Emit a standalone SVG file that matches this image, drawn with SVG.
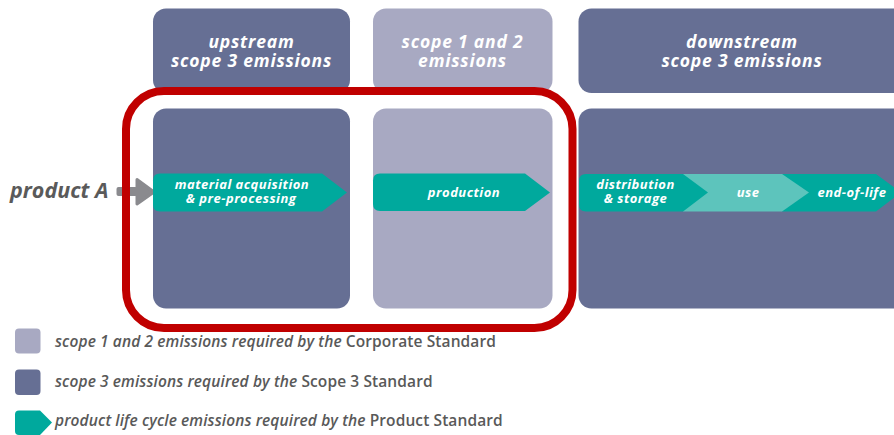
<svg xmlns="http://www.w3.org/2000/svg" width="894" height="435" viewBox="0 0 894 435">
<style>
.dark{fill:#666f94}
.light{fill:#a8a9c2}
.teal{fill:#00a99d}
.teal2{fill:#5dc4bc}
.hd{font-family:"Open Sans","Liberation Sans",sans-serif;font-style:italic;font-weight:700;font-size:17.5px;letter-spacing:0.8px;fill:#ffffff;text-anchor:middle}
.lb{font-family:"Open Sans","Liberation Sans",sans-serif;font-style:italic;font-weight:700;font-size:13px;letter-spacing:0.5px;fill:#ffffff;text-anchor:middle}
.lg{font-family:"Open Sans","Liberation Sans",sans-serif;font-size:15.5px;font-weight:600;letter-spacing:0.1px;fill:#595959}
.it{font-style:italic}
</style>
<g id="top-upstream"><rect class="dark" x="153" y="8.5" width="197" height="84.5" rx="13"/><text class="hd" x="251.5" y="48">upstream</text><text class="hd" x="251.5" y="67">scope 3 emissions</text></g>
<g id="top-scope12"><rect class="light" x="373" y="8.5" width="179.5" height="84.5" rx="13"/><text class="hd" x="462.5" y="48">scope 1 and 2</text><text class="hd" x="462.5" y="67">emissions</text></g>
<g id="top-downstream"><rect class="dark" x="578.5" y="8.5" width="330" height="84.5" rx="13"/><text class="hd" x="742" y="48">downstream</text><text class="hd" x="742" y="67">scope 3 emissions</text></g>
<g id="box-upstream"><rect class="dark" x="153" y="108.5" width="197" height="200" rx="13"/></g>
<g id="box-scope12"><rect class="light" x="373" y="108.5" width="179.5" height="200" rx="13"/></g>
<g id="box-downstream"><rect class="dark" x="578.5" y="108.5" width="330" height="200" rx="13"/></g>
<g id="product-a"><text x="10" y="198" font-family="'Open Sans','Liberation Sans',sans-serif" font-style="italic" font-weight="700" font-size="21.5" fill="#5a5a5a">product A</text></g>
<g id="connectors"><rect x="116.5" y="187" width="21" height="9" rx="2" fill="#8a8a8e"/><path d="M137,179.5 L154,192 L137,204 Z" fill="#8a8a8e" stroke="#8a8a8e" stroke-width="3" stroke-linejoin="round"/></g>
<g id="red-boundary"><rect x="126" y="91" width="446.5" height="237" rx="38" fill="none" stroke="#c00000" stroke-width="8"/></g>
<g id="stage-material"><path class="teal" d="M160,173.5 H322 L347,192.5 L322,211.5 H160 Q153,211.5 153,204.5 V180.5 Q153,173.5 160,173.5 Z"/><text class="lb" x="242" y="189">material acquisition</text><text class="lb" x="241" y="203">&amp; pre-processing</text></g>
<g id="stage-production"><path class="teal" d="M380,173.5 H525 L550,192.5 L525,211 H380 Q373,211 373,204 V180.5 Q373,173.5 380,173.5 Z"/><text class="lb" x="464" y="196.5">production</text></g>
<g id="stage-eol"><path class="teal" d="M782,174 H876 L901,192.5 L876,211.5 H782 Z"/><text class="lb" x="852" y="196.5">end-of-life</text></g>
<g id="stage-use"><path class="teal2" d="M683,174 H782 L809,192.5 L782,211.5 H683 Z"/><text class="lb" x="748" y="196.5">use</text></g>
<g id="stage-distribution"><path class="teal" d="M586,174 H683 L708,192.5 L683,211.5 H586 Q579,211.5 579,204.5 V181 Q579,174 586,174 Z"/><text class="lb" x="635.5" y="189">distribution</text><text class="lb" x="635.5" y="203">&amp; storage</text></g>
<g id="legend">
<rect class="light" x="15" y="328.5" width="25.5" height="25" rx="4"/>
<text class="lg" x="55" y="347"><tspan class="it">scope 1 and 2 emissions required by the</tspan> Corporate Standard</text>
<rect class="dark" x="15" y="369.5" width="25.5" height="25.5" rx="4"/>
<text class="lg" x="55" y="387"><tspan class="it">scope 3 emissions required by the</tspan> Scope 3 Standard</text>
<path class="teal" d="M19,410.5 H40 L52,422.5 L40,435 H19 Q15,435 15,431 V414.5 Q15,410.5 19,410.5 Z"/>
<text class="lg" x="55" y="426"><tspan class="it">product life cycle emissions required by the</tspan> Product Standard</text>
</g>
</svg>
